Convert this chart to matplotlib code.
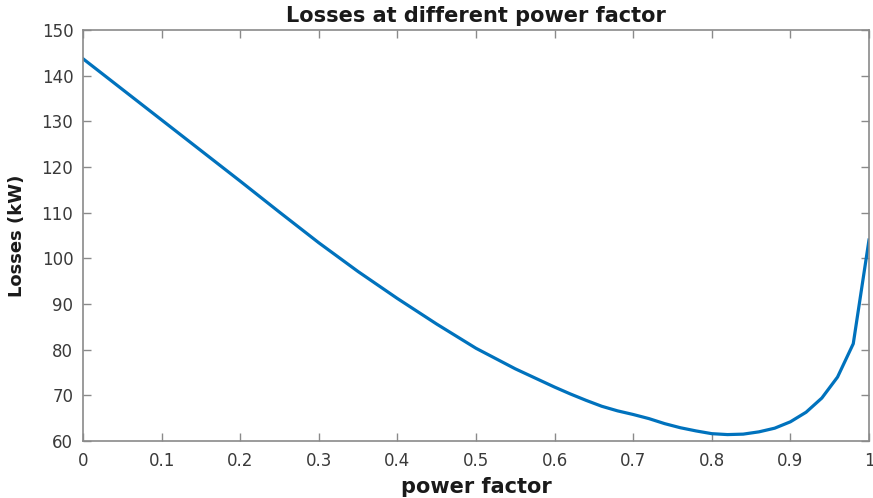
import matplotlib
matplotlib.use("Agg")
import matplotlib.pyplot as plt

# power factor vs losses
pf = [0, 0.05, 0.1, 0.15, 0.2, 0.25, 0.3, 0.35, 0.4, 0.45, 0.5, 0.55, 0.6,
      0.62, 0.64, 0.66, 0.68, 0.7, 0.72, 0.74, 0.76, 0.78, 0.8, 0.82, 0.84,
      0.86, 0.88, 0.9, 0.92, 0.94, 0.96, 0.98, 1.0]
losses = [143.7, 137.0, 130.3, 123.6, 116.9, 110.1, 103.4, 97.1, 91.2, 85.6, 80.3, 75.8, 71.8,
          70.3, 68.9, 67.6, 66.6, 65.8, 64.9, 63.8, 62.9, 62.2, 61.6, 61.4, 61.5,
          62.0, 62.8, 64.2, 66.3, 69.4, 74.0, 81.3, 104.0]
xticks = [0, 0.1, 0.2, 0.3, 0.4, 0.5, 0.6, 0.7, 0.8, 0.9, 1]
xticklabels = ["0", "0.1", "0.2", "0.3", "0.4", "0.5", "0.6", "0.7", "0.8", "0.9", "1"]
yticks = [60, 70, 80, 90, 100, 110, 120, 130, 140, 150]

plt.rcParams['font.family'] = ['DejaVu Sans']

fig = plt.figure(figsize=(8.73, 4.98), dpi=100)
ax = fig.add_axes([0.0951, 0.1145, 0.9003, 0.8253])

ax.plot(pf, losses, color='#0072BD', linewidth=2.3)

ax.set_xlim(0, 1)
ax.set_ylim(60, 150)
ax.set_xticks(xticks)
ax.set_xticklabels(xticklabels)
ax.set_yticks(yticks)

#MATLAB-ish box and ticks
for s in ax.spines.values():
    s.set_color('#8a8a8a')
    s.set_linewidth(1.2)
ax.tick_params(direction='in', length=6, width=1, color='#8a8a8a',
               labelsize=12, labelcolor='#3a3a3a', top=True, right=True)
ax.tick_params(axis='x', pad=8)
ax.tick_params(axis='y', pad=7)

ax.set_title('Losses at different power factor', fontsize=15, fontweight='bold', pad=6, color='#1a1a1a')
ax.set_xlabel('power factor', fontsize=15, fontweight='bold', labelpad=5, color='#1a1a1a')
ax.set_ylabel('Losses (kW)', fontsize=13, fontweight='bold', labelpad=11, color='#1a1a1a')

fig.savefig('out.png', dpi=100)
